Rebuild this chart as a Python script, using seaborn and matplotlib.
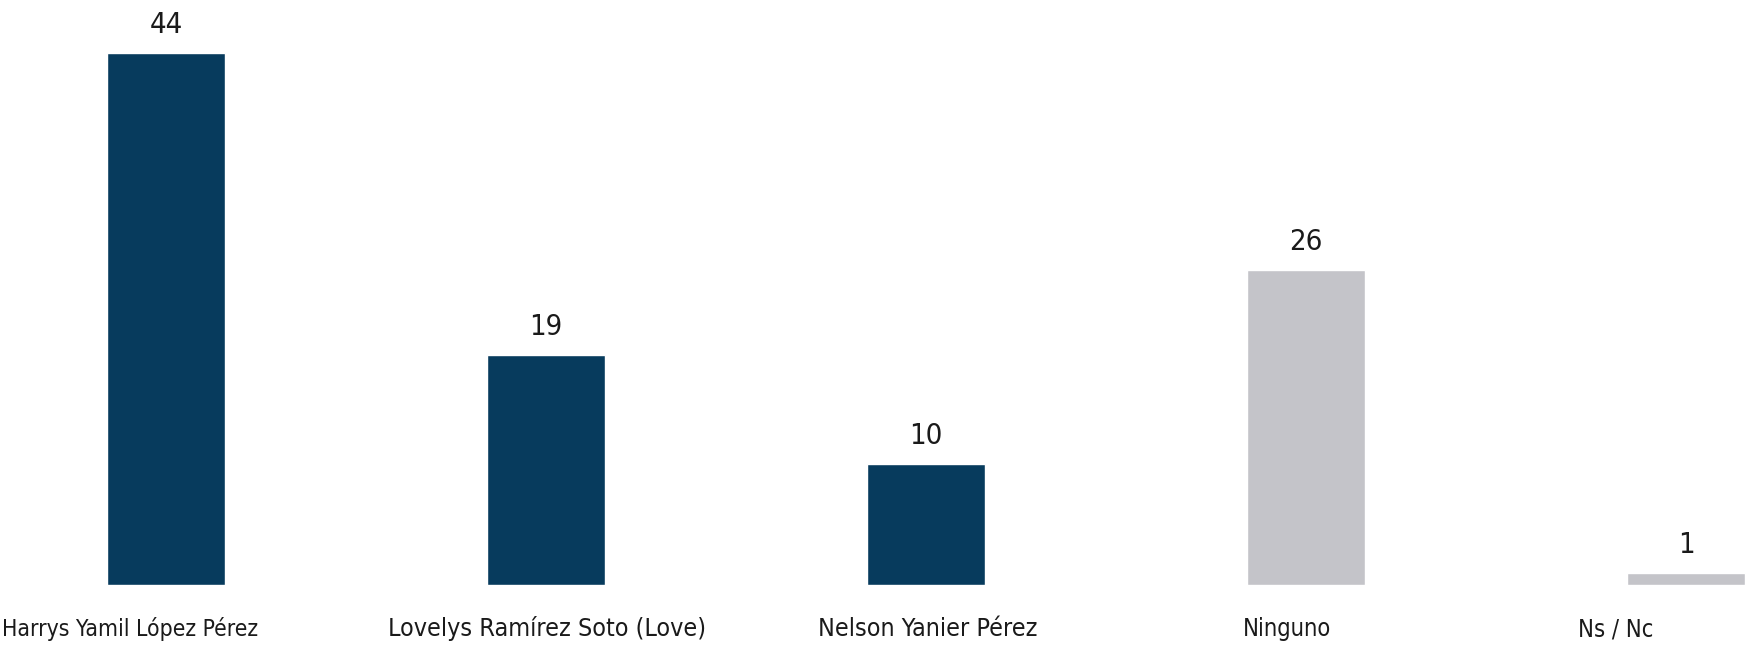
import matplotlib
matplotlib.use("Agg")
import matplotlib.pyplot as plt
import matplotlib.transforms as mtransforms
import seaborn as sns
import pandas as pd

# Data
categories = [
    "Harrys Yamil López Pérez",
    "Lovelys Ramírez Soto (Love)",
    "Nelson Yanier Pérez",
    "Ninguno",
    "Ns / Nc",
]
values = [44, 19, 10, 26, 1]
groups = ["candidato", "candidato", "candidato", "otro", "otro"]

df = pd.DataFrame({"categoria": categories, "valor": values, "grupo": groups})

sns.set_theme(style="white")
plt.rcParams["font.family"] = ["DejaVu Sans"]
plt.rcParams["font.stretch"] = "condensed"

palette = {"candidato": "#073b5d", "otro": "#c4c4c9"}

fig = plt.figure(figsize=(17.5, 6.47), dpi=100)
ax = fig.add_axes([0, 62 / 647, 1, 585 / 647])

sns.barplot(
    data=df, x="categoria", y="valor", hue="grupo", palette=palette,
    dodge=False, width=0.313, legend=False, ax=ax, saturation=1,
)

ax.set_xlim(-166 / 380, (1750 - 166) / 380)
ax.set_ylim(0, 585 / 12.1)
ax.set_xlabel("")
ax.set_ylabel("")
ax.set_yticks([])
sns.despine(ax=ax, left=True, bottom=True)

for i, v in enumerate(df["valor"]):
    ax.annotate(str(v), (i, v), xytext=(0, 20), textcoords="offset pixels",
                ha="center", va="baseline", fontsize=21, color="#1a1a1a",
                fontstretch="condensed")

# baseline of the category labels ~52 px under the bars
ax.tick_params(axis="x", length=0, pad=37, labelcolor="#1a1a1a")

# labels in the reference sit a bit off the bar centres
label_shift = [-36, 1, 2, -19, -70]
label_size = [16.5, 18, 18, 17, 17]
for lab, dx, fs in zip(ax.get_xticklabels(), label_shift, label_size):
    lab.set_fontstretch("condensed")
    lab.set_fontsize(fs)
    lab.set_va("baseline")
    lab.set_transform(lab.get_transform() + mtransforms.Affine2D().translate(dx, 0))

fig.savefig("out.png", dpi=100, facecolor="white")
